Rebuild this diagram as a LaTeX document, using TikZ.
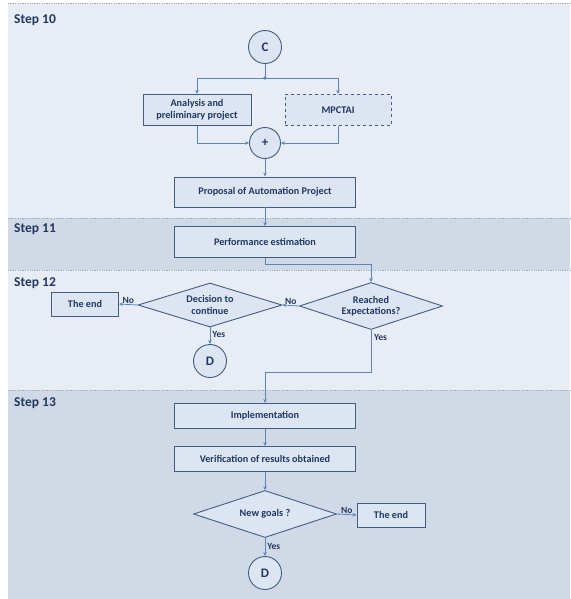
\documentclass[tikz,border=0pt]{standalone}
\usepackage{fontspec}
\setmainfont{Carlito}
\usetikzlibrary{shapes.geometric,arrows.meta,positioning}

\definecolor{navy}{HTML}{1F3864}
\definecolor{edge}{HTML}{3E5E88}
\definecolor{flowblue}{HTML}{5A86BF}
\definecolor{boxfill}{HTML}{DCE5F1}
\definecolor{bandlight}{HTML}{E8ECF4}
\definecolor{banddark}{HTML}{D2D9E6}
\definecolor{sepline}{HTML}{9AA8C0}

\tikzset{
  stepbox/.style={draw=edge,line width=0.9pt,fill=boxfill,rectangle,
    minimum height=31pt,minimum width=181pt,inner sep=1pt,align=center,
    text=navy,font=\fontsize{10.2}{11.5}\selectfont\bfseries},
  decide/.style={draw=edge,line width=0.9pt,fill=boxfill,diamond,aspect=3,
    minimum width=143pt,minimum height=47pt,inner sep=0pt,align=center,
    text=navy,font=\fontsize{10.2}{11.5}\selectfont\bfseries},
  connector/.style={draw=edge,line width=0.9pt,fill=boxfill,circle,
    minimum size=33pt,inner sep=0pt,text=navy,
    font=\fontsize{13}{14}\selectfont\bfseries},
  flow/.style={draw=flowblue,line width=0.8pt,-{Stealth[length=4pt,width=3.5pt]}},
  answer/.style={text=navy,font=\fontsize{9.5}{10}\selectfont\bfseries,inner sep=1pt},
  steplabel/.style={anchor=west,text=navy,font=\fontsize{13.5}{14}\selectfont\bfseries,inner sep=0pt},
  separator/.style={draw=sepline,line width=0.6pt,dash pattern=on 1.2pt off 1.2pt}
}

\begin{document}
\begin{tikzpicture}[x=1pt,y=-1pt]
  \useasboundingbox (0,0) rectangle (570,599);

  % bands
  \fill[bandlight] (8,3) rectangle (570,218);
  \fill[banddark] (8,218) rectangle (570,270);
  \fill[bandlight] (8,270) rectangle (570,390);
  \fill[banddark] (8,390) rectangle (570,599);
  \foreach \y in {3,218,270,390}
    \draw[separator] (8,\y) -- (570,\y);

  \node[steplabel] (s10) at (14,20) {Step 10};
  \node[steplabel] (s11) at (14,229) {Step 11};
  \node[steplabel] (s12) at (14,283) {Step 12};
  \node[steplabel] (s13) at (14,403) {Step 13};

  % step 10
  \node[connector] (c) at (265,47) {C};
  \coordinate (split) at (265,78);
  \node[stepbox,minimum width=108pt] (analysis) at (197,110) {Analysis and\\preliminary project};
  \node[stepbox,dashed,minimum width=106pt] (mpctai) at (338,110) {MPCTAI};
  \node[connector,minimum size=31pt] (plus) at (265,143) {+};
  \node[stepbox,minimum height=30pt] (proposal) at (265,192) {Proposal of Automation Project};

  \draw[draw=flowblue,line width=0.8pt] (c) -- (split);
  \fill[flowblue] (split) circle (1.8pt);
  \draw[flow] (split) -| (analysis.north);
  \draw[flow] (split) -| (mpctai.north);
  \draw[flow] (analysis.south) |- (plus.west);
  \draw[flow] (mpctai.south) |- (plus.east);
  \draw[flow] (plus) -- (proposal);

  % step 11
  \node[stepbox] (perf) at (265,242) {Performance estimation};
  \draw[flow] (proposal) -- (perf);

  % step 12
  \node[decide] (reached) at (371,306) {Reached\\Expectations?};
  \node[decide,minimum height=44pt,minimum width=144pt] (decision) at (210,305) {Decision to\\continue};
  \node[stepbox,minimum width=67pt,minimum height=24pt] (end1) at (85,304) {The end};
  \node[connector] (d1) at (210,361) {D};

  \draw[flow] (perf.south) -- ++(0,6) -| (reached.north);
  \draw[flow] (reached.west) -- node[answer,above] {No} (decision.east);
  \draw[flow] (decision.west) -- node[answer,above] {No} (end1.east);
  \draw[flow] (decision.south) -- (d1.north) node[answer,pos=0.4,right=1pt] {Yes};

  % step 13
  \node[stepbox,minimum height=25pt] (impl) at (265,416) {Implementation};
  \node[stepbox,minimum height=25pt] (verif) at (265,459) {Verification of results obtained};
  \node[decide] (goals) at (265,514) {New goals ?};
  \node[stepbox,minimum width=68pt,minimum height=24pt] (end2) at (391,515) {The end};
  \node[connector] (d2) at (265,573) {D};

  \draw[flow] (reached.south) -- ++(0,42) -| (impl.north);
  \node[answer,anchor=west] (yes2) at (373,337) {Yes};
  \draw[flow] (impl) -- (verif);
  \draw[flow] (verif) -- (goals);
  \draw[flow] (goals.east) -- node[answer,above] {No} (end2.west);
  \draw[flow] (goals.south) -- (d2.north) node[answer,pos=0.45,right=1pt] {Yes};
\end{tikzpicture}
\end{document}
